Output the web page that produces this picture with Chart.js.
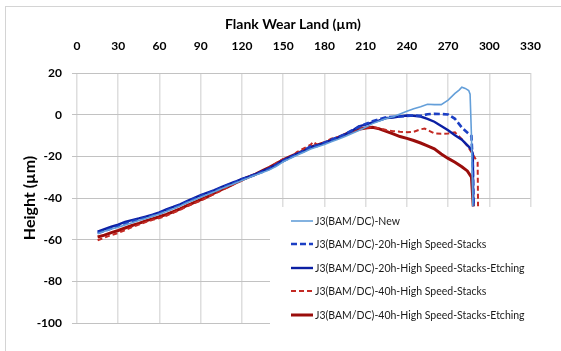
<!DOCTYPE html>
<html>
<head>
<meta charset="utf-8">
<script src="https://cdn.jsdelivr.net/npm/chart.js@4.4.0/dist/chart.umd.min.js"></script>
<style>
  body { margin: 0; background: #fff; font-family: Lato, "Open Sans", sans-serif; }
  #wrap { position: relative; width: 561px; height: 351px; overflow: hidden; }
  #frame { position: absolute; left: 5px; top: 6px; width: 570px; height: 360px; border: 1px solid #d4d4d4; }
  #xtitle { position: absolute; left: 0; top: 15px; width: 586px; text-align: center;
            font: bold 14px Lato, sans-serif; line-height: 18px; color: #000; }
  #legend { position: absolute; left: 270px; top: 207px; width: 285px; height: 122px; background: #fff; }
  #legend .row { position: absolute; left: 21px; height: 20px; display: flex; align-items: center;
                 font: 10.5px Lato, sans-serif; color: #1a1a1a; white-space: nowrap; }
  #legend svg { margin-right: 2px; }
</style>
</head>
<body>
<div id="wrap">
  <div id="frame"></div>
  <canvas id="profileChart"></canvas>
  <div id="xtitle">Flank Wear Land (µm)</div>
  <div id="legend"></div>
</div>
<script>
document.addEventListener("DOMContentLoaded", function () {

  // ==================================================
  // DATA
  // ==================================================
  const seriesLabels = [
    'J3(BAM/DC)-New',
    'J3(BAM/DC)-20h-High Speed-Stacks',
    'J3(BAM/DC)-20h-High Speed-Stacks-Etching',
    'J3(BAM/DC)-40h-High Speed-Stacks',
    'J3(BAM/DC)-40h-High Speed-Stacks-Etching'
  ];

  const xTicks = [0, 30, 60, 90, 120, 150, 180, 210, 240, 270, 300, 330];
  const yTicks = [20, 0, -20, -40, -60, -80, -100];

  // New
  const xNew = [15, 20, 25, 30, 35, 40, 45, 50, 55, 60, 65, 70, 75, 80, 85, 90, 95, 100, 105, 110,
    115, 120, 125, 130, 135, 140, 145, 150, 155, 160, 165, 170, 175, 180, 185, 190, 195, 200, 205, 210,
    215, 220, 225, 230, 235, 240, 245, 250, 255, 260, 265, 270, 275, 278, 280, 282.5, 285, 286, 287, 287.6, 288];
  const yNew = [-57.2, -56, -54.9, -54, -52.9, -51.9, -50.8, -49.8, -48.7, -47.7, -46.5, -45.2, -43.8, -42.3, -41, -39.6, -38.3, -37, -35.6, -34.2,
    -32.9, -31.6, -30.3, -29, -27.8, -26.5, -24.8, -22.6, -21, -19.5, -18, -16.5, -15.4, -14.3, -13, -11.8, -10.5, -9, -7.6, -6,
    -4.3, -3, -1.8, -1, 0.3, 1.6, 2.8, 3.8, 5, 4.8, 4.8, 7, 10.2, 11.8, 13.2, 12.6, 11.6, 9.8, -10, -30, -44];

  // 20h stacks
  const x20 = [15, 20, 25, 30, 35, 40, 45, 50, 55, 60, 65, 70, 75, 80, 85, 90, 95, 100, 105, 110,
    115, 120, 125, 130, 135, 140, 145, 150, 155, 160, 165, 170, 175, 180, 185, 190, 195, 200, 205, 210,
    215, 220, 225, 230, 235, 240, 245, 250, 255, 260, 265, 270, 275, 280, 285, 287, 288, 288.6];
  const y20 = [-56.8, -55.8, -54.6, -53.5, -52.3, -51.2, -50.3, -49.3, -48.4, -47.4, -46, -44.8, -43.4, -41.9, -40.5, -39, -37.8, -36.5, -35.2, -33.7,
    -32.5, -31.1, -29.9, -28.7, -27.4, -26, -24.2, -22.3, -20.6, -19, -17.3, -15.2, -15, -13.5, -12, -10.8, -9.4, -7.6, -6, -4.4,
    -3.2, -2.2, -1.2, -1, -0.9, -0.6, -0.4, -0.6, 0.2, 0.4, 0.3, 0.1, -2, -6.2, -9.2, -10.2, -25, -44];

  // 20h stacks, etching
  const x20e = [15, 20, 25, 30, 35, 40, 45, 50, 55, 60, 65, 70, 75, 80, 85, 90, 95, 100, 105, 110,
    115, 120, 125, 130, 135, 140, 145, 150, 155, 160, 165, 170, 175, 180, 185, 190, 195, 200, 205, 210,
    215, 220, 225, 230, 235, 240, 245, 250, 255, 260, 265, 270, 275, 280, 285, 287, 288, 288.3];
  const y20e = [-56.2, -55, -53.8, -52.8, -51.5, -50.6, -49.8, -48.9, -48, -46.9, -45.5, -44.3, -43, -41.5, -40.1, -38.6, -37.4, -36.2, -34.8, -33.4,
    -32.2, -30.8, -29.7, -28.5, -27.1, -25.7, -23.9, -21.9, -20.4, -18.8, -17.6, -15.7, -14.6, -13.7, -12.3, -11, -9.6, -7.8, -5.6, -4.8,
    -3.7, -2.7, -1.6, -1.4, -0.8, -0.4, -0.5, -0.9, -2, -3.4, -5.4, -7.5, -9.9, -12, -15.3, -17, -18.8, -44];

  // 40h stacks
  const x40 = [15, 20, 25, 30, 35, 40, 45, 50, 55, 60, 65, 70, 75, 80, 85, 90, 95, 100, 105, 110,
    115, 120, 125, 130, 135, 140, 145, 150, 155, 160, 165, 170, 172, 175, 180, 185, 190, 195, 200, 205, 210,
    215, 220, 225, 230, 235, 240, 245, 250, 253, 257, 260, 265, 270, 275, 280, 284, 287, 290, 291.5, 291.8];
  const y40 = [-60.3, -59, -57.8, -56.8, -55.4, -54, -52.8, -51.6, -50.5, -49.6, -48.5, -47.1, -45.7, -44, -42.6, -41.3, -39.6, -38, -36.4, -34.7,
    -33.1, -31.6, -30, -28.6, -27.1, -25.5, -23.2, -21.3, -20.6, -18, -16.2, -14.4, -13, -14.6, -13.4, -11.5, -10.7, -9.8, -8.2, -7, -6.4,
    -6, -6.5, -7.4, -7.9, -8.2, -8.4, -8.2, -7, -6.7, -8, -9, -9.2, -9, -8.5, -11.8, -15, -18, -21.3, -23, -44];

  // 40h stacks, etching
  const x40e = [15, 20, 25, 30, 35, 40, 45, 50, 55, 60, 65, 70, 75, 80, 85, 90, 95, 100, 105, 110,
    115, 120, 125, 130, 135, 140, 145, 150, 155, 160, 165, 170, 175, 180, 185, 190, 195, 200, 205, 210,
    215, 220, 225, 230, 235, 240, 245, 250, 255, 260, 265, 270, 275, 280, 284, 287, 288.3];
  const y40e = [-58.7, -57.8, -56.6, -55.6, -54.4, -53.2, -52.2, -51, -50, -49, -47.9, -46.6, -45.2, -43.6, -42.2, -40.8, -39.3, -37.6, -36, -34.5,
    -32.9, -31.3, -29.9, -28.5, -26.9, -25.3, -23.5, -21.7, -20.1, -18.7, -17.2, -15.6, -14.5, -13.5, -12.2, -11, -9.5, -8.2, -7, -6.4,
    -6.1, -6.8, -8, -9.2, -10.5, -11.4, -12.4, -13.6, -15, -16.4, -18.9, -21, -22.8, -25, -27, -30, -44];

  const colors = ['#649fd9', '#1c3fc4', '#0b1fa3', '#c32a24', '#9a0d0b'];
  const widths = [1.6, 2.6, 2.4, 2, 3];
  const dashes = [[], [6, 3], [], [5, 3], []];

  const xsList = [xNew, x20, x20e, x40, x40e];
  const ysList = [yNew, y20, y20e, y40, y40e];

  const datasets = seriesLabels.map((label, i) => ({
    label: label,
    data: xsList[i].map((x, k) => ({ x: x, y: ysList[i][k] })),
    borderColor: colors[i],
    borderWidth: widths[i],
    borderDash: dashes[i],
    pointRadius: 0,
    tension: 0,
    fill: false
  }));

  const tickFont = { family: 'Lato', size: 12, weight: 'bold' };

  new Chart(document.getElementById('profileChart'), {
    type: 'line',
    data: { datasets: datasets },
    options: {
      responsive: true,
      maintainAspectRatio: false,
      animation: false,
      layout: { padding: { top: 0, left: 0, right: 15, bottom: 28 } },
      plugins: {
        legend: { display: false },
        tooltip: { enabled: false }
      },
      scales: {
        x: {
          type: 'linear',
          position: 'top',
          min: 0,
          max: 330,
          afterBuildTicks: (s) => { s.ticks = xTicks.map(v => ({ value: v })); },
          afterFit: (s) => { s.height = 73; },
          ticks: { color: '#000', font: tickFont, padding: 20, maxRotation: 0 },
          grid: { color: '#dedede', lineWidth: 1.5, drawTicks: false },
          border: { display: false }
        },
        y: {
          min: -100,
          max: 20,
          afterBuildTicks: (s) => { s.ticks = yTicks.map(v => ({ value: v })); },
          afterFit: (s) => { s.width = 77; },
          ticks: { color: '#000', font: tickFont, padding: 10 },
          grid: { color: '#c2c2c2', lineWidth: 1, tickLength: 5 },
          border: { display: false },
          title: {
            display: true,
            text: 'Height (µm)',
            color: '#000',
            font: { family: 'Lato', size: 16, weight: 'bold' },
            padding: { top: 20, bottom: 0 }
          }
        }
      }
    }
  });

  // legend built by hand inside the plot area
  const legend = document.getElementById('legend');
  seriesLabels.forEach((label, i) => {
    const row = document.createElement('div');
    row.className = 'row';
    row.style.top = (3.5 + i * 23.5) + 'px';
    const dash = dashes[i].length ? `stroke-dasharray="${dashes[i].join(' ')}"` : '';
    row.innerHTML = `<svg width="22" height="6"><line x1="0" y1="3" x2="22" y2="3" stroke="${colors[i]}" stroke-width="${widths[i]}" ${dash}/></svg>${label}`;
    legend.appendChild(row);
  });

});
</script>
</body>
</html>
